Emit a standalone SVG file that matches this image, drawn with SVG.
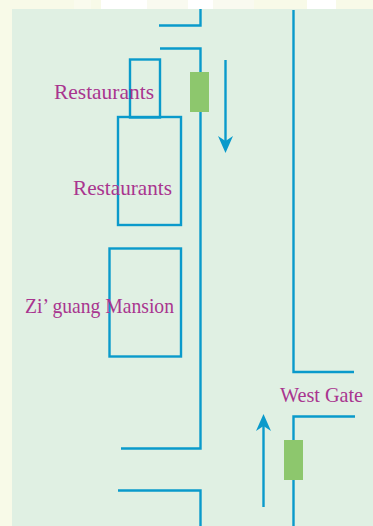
<svg xmlns="http://www.w3.org/2000/svg" width="373" height="526" viewBox="0 0 373 526">
<style>
.l{fill:none;stroke:#0a9acb;stroke-width:2.4}
.g{fill:#8dc76d}
.t{font-family:"Liberation Serif",serif;font-size:21px;fill:#a9358f}
</style>
<defs>
<marker id="a" markerUnits="userSpaceOnUse" markerWidth="18" markerHeight="16" refX="6" refY="8" orient="auto" viewBox="0 0 18 16"><path d="M18 8L1 0.500L6 8L1 15.500Z" fill="#0a9acb"/></marker>
</defs>
<rect width="373" height="526" fill="#f8fae8"/>
<rect x="101" width="46" height="9" fill="#fff"/>
<rect x="188" width="25" height="9" fill="#fff"/>
<rect x="307" width="29" height="9" fill="#fff"/>
<rect x="74" width="17" height="9" fill="#fafbee"/>
<rect x="147" width="41" height="9" fill="#f9faf0"/>
<rect x="213" width="41" height="9" fill="#f9faf0"/>
<rect x="12" y="9" width="361" height="517" fill="#e0f0e3"/>
<g id="connectors">
<path class="l" d="M159 25.5H200.5V9"/>
<path class="l" d="M160 48.5H200.5V448.5H121"/>
<path class="l" d="M118 490.5H200.500V526"/>
<path class="l" d="M293.5 10V372H354"/>
<path class="l" d="M355 416.5H293.5V526"/>
<path class="l" d="M225.5 60V141" marker-end="url(#a)"/>
<path class="l" d="M263.5 507V426" marker-end="url(#a)"/>
</g>
<g id="restaurants-1"><rect class="l" x="130" y="59.5" width="30" height="58"/><text class="t" x="54" y="99" textLength="100" lengthAdjust="spacingAndGlyphs">Restaurants</text></g>
<g id="restaurants-2"><rect class="l" x="118" y="117" width="63" height="108"/><text class="t" x="73" y="195" textLength="99" lengthAdjust="spacingAndGlyphs">Restaurants</text></g>
<g id="ziguang-mansion"><rect class="l" x="109.5" y="248.5" width="71.500" height="108"/><text class="t" x="25" y="313" textLength="149" lengthAdjust="spacingAndGlyphs">Zi’ guang Mansion</text></g>
<g id="west-gate"><text class="t" x="280" y="402" textLength="83" lengthAdjust="spacingAndGlyphs">West Gate</text></g>
<g id="gate-north"><rect class="g" x="190" y="72" width="19" height="40"/></g>
<g id="gate-south"><rect class="g" x="284" y="440" width="19" height="40"/></g>
</svg>
